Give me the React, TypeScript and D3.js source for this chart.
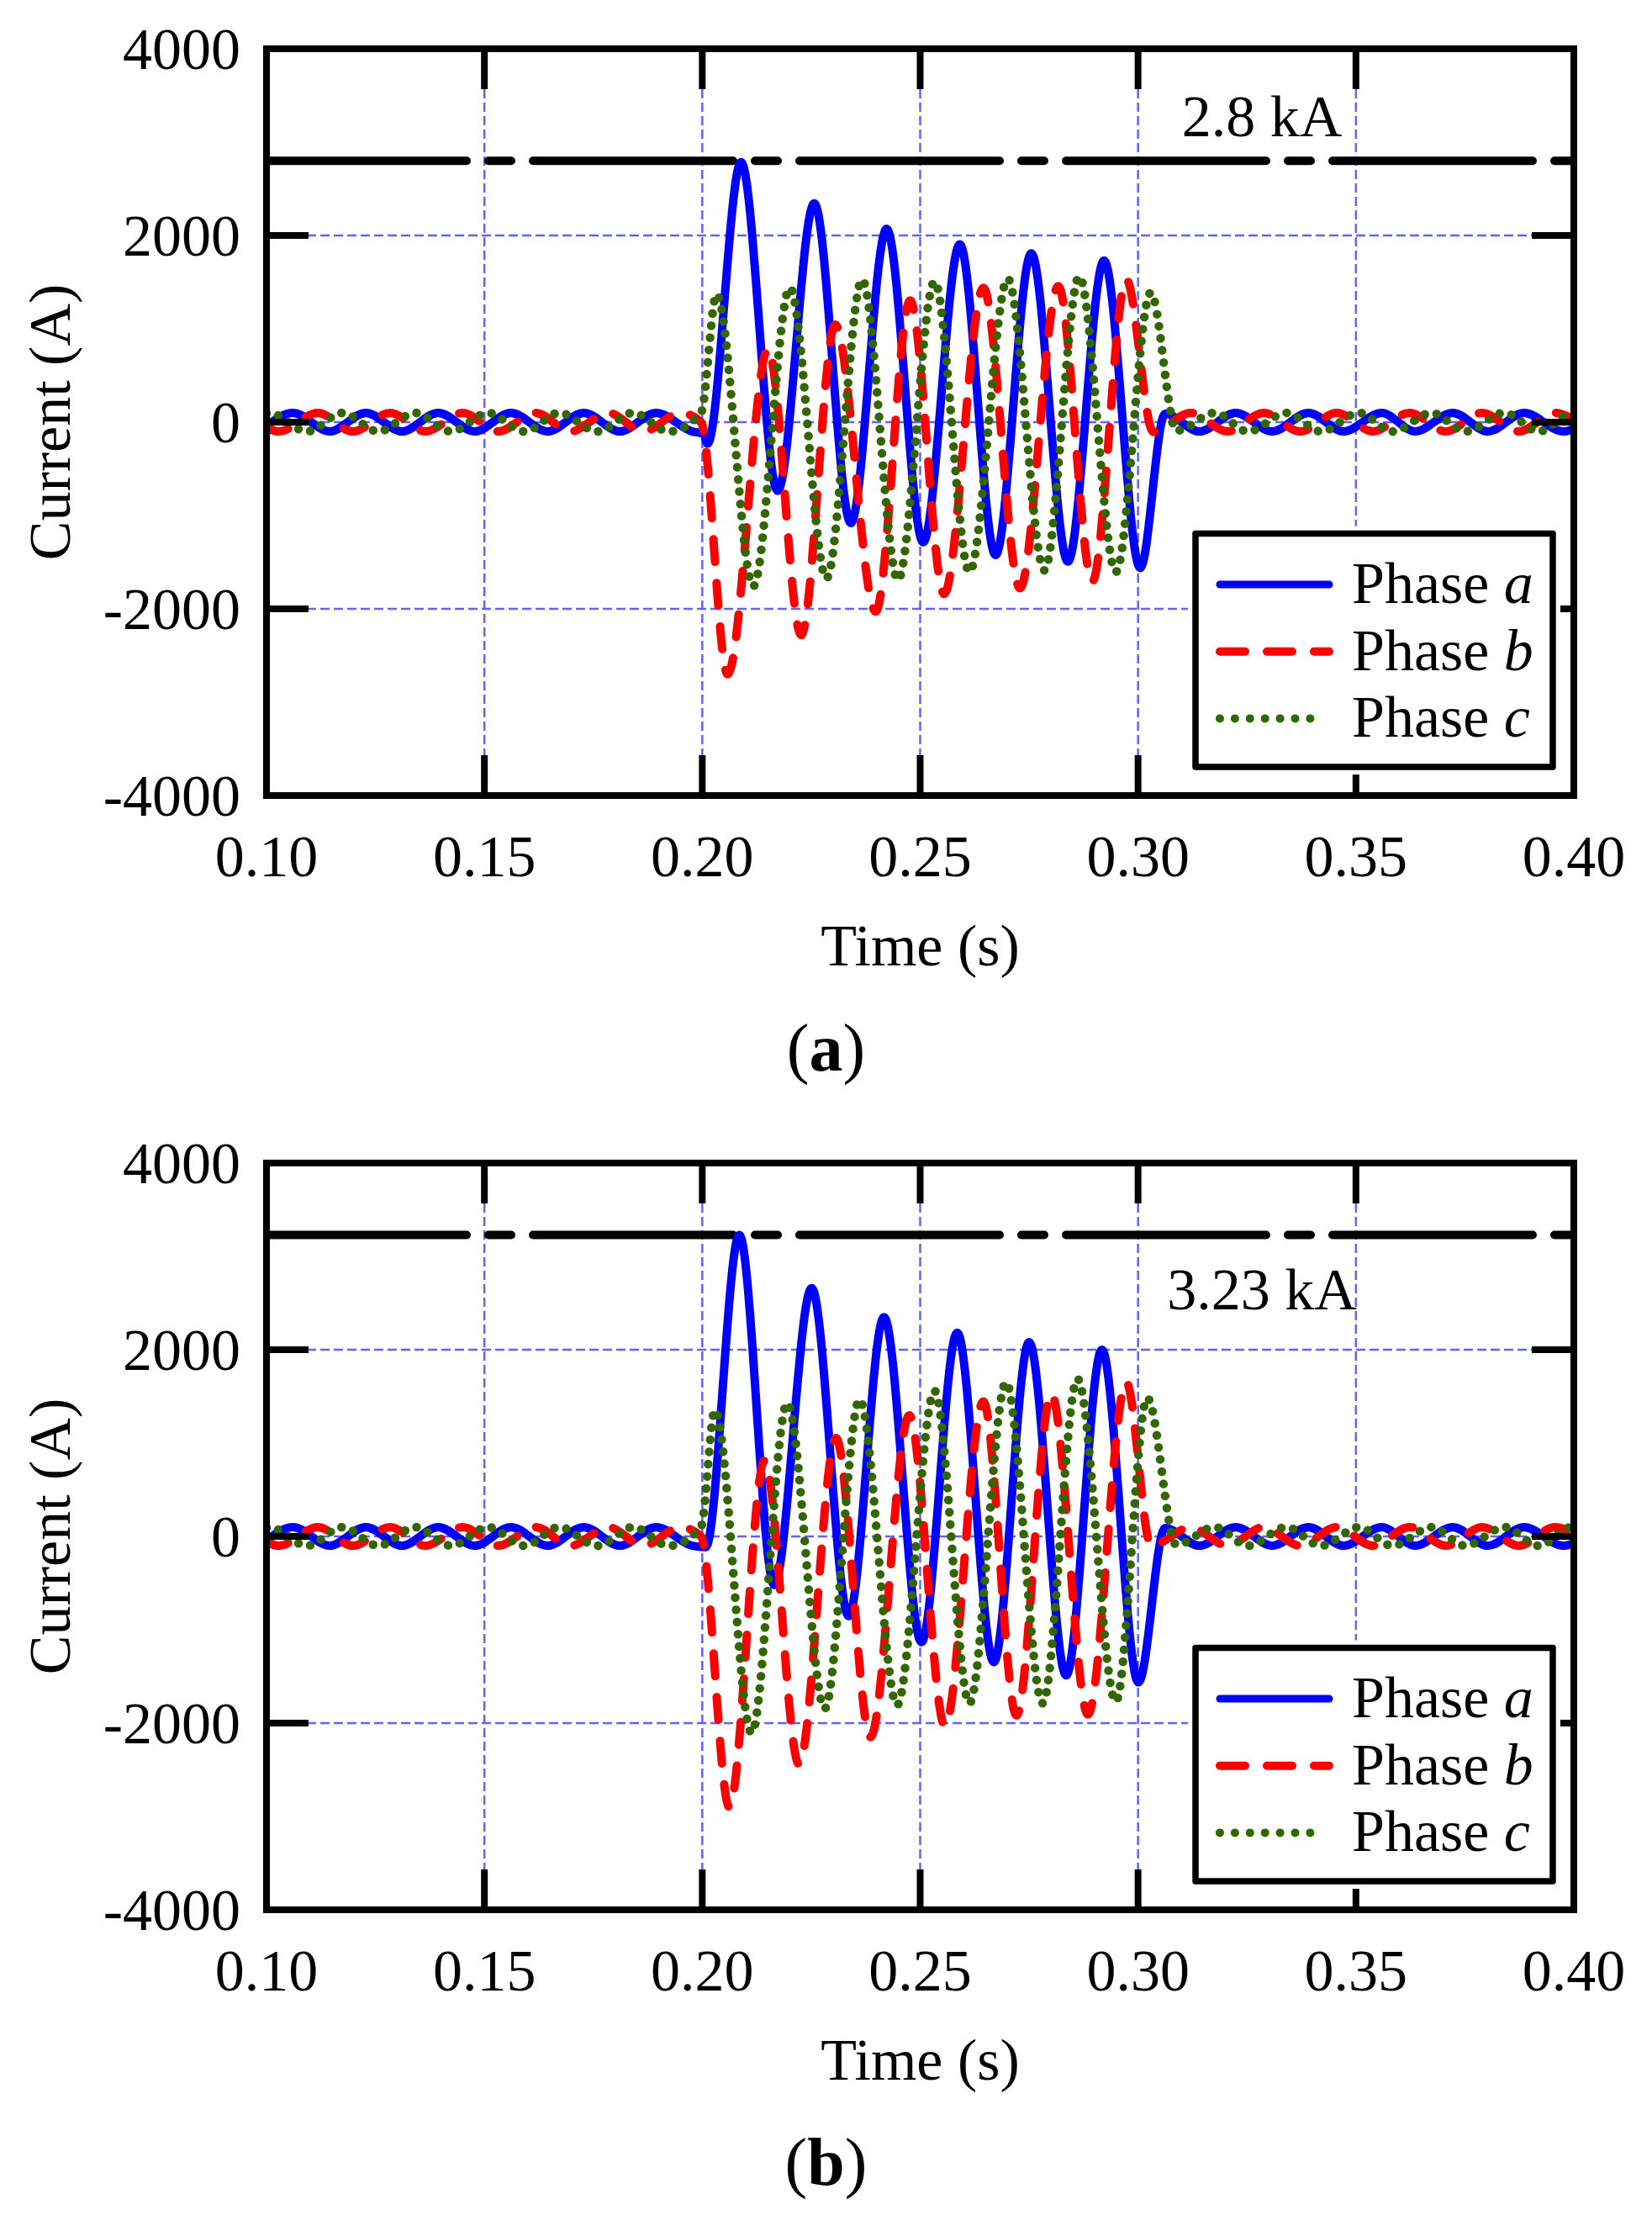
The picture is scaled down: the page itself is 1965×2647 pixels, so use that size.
import React from "react";
import * as d3 from "d3";

type P = [number, number];

// ---------- steady-state ripple (shared by both panels), [time s, current A] ----------
const preA: P[] = [[0.1, -40], [0.1061, 100], [0.1145, -100], [0.1228, 100], [0.1311, -100], [0.1394, 100], [0.1478, -100], [0.1561, 100], [0.1645, -100], [0.1728, 100], [0.1811, -100], [0.1894, 100], [0.1977, -100]];
const postA: P[] = [[0.3062, 90], [0.3141, -100], [0.3224, 100], [0.3308, -100], [0.3391, 100], [0.3472, -100], [0.3559, 100], [0.3636, -100], [0.3722, 100], [0.3803, -100], [0.3886, 100], [0.3976, -100], [0.4, -70]];
const preB: P[] = [[0.1, -60], [0.1028, -100], [0.1118, 100], [0.1198, -100], [0.1284, 100], [0.1365, -100], [0.1451, 100], [0.1532, -100], [0.1617, 100], [0.1698, -100], [0.1784, 100], [0.1865, -100], [0.195, 100], [0.1997, 0]];
const postB: P[] = [[0.3121, 100], [0.3205, -100], [0.3288, 100], [0.3372, -100], [0.3456, 100], [0.3539, -100], [0.3623, 100], [0.3706, -100], [0.379, 100], [0.3874, -100], [0.3957, 100], [0.4, 30]];
const preC: P[] = [[0.1, 95], [0.1006, 100], [0.1093, -100], [0.1174, 100], [0.1257, -100], [0.1341, 100], [0.1424, -100], [0.1508, 100], [0.1592, -100], [0.1672, 100], [0.1759, -100], [0.1841, 100], [0.1923, -100], [0.1997, 100]];
const postC: P[] = [[0.3088, -90], [0.3176, 100], [0.3253, -100], [0.334, 100], [0.342, -100], [0.3507, 100], [0.3584, -100], [0.3674, 100], [0.3751, -100], [0.3841, 100], [0.392, -100], [0.3996, 100], [0.4, 100]];

// ---------- fault transients, panel (a) ----------
const faultA1: P[] = [[0.2003, -125], [0.2012, -230], [0.2089, 2785], [0.2173, -735], [0.2257, 2344], [0.2341, -1080], [0.2423, 2071], [0.2507, -1287], [0.2591, 1905], [0.2673, -1424], [0.2755, 1809], [0.2839, -1494], [0.2922, 1733], [0.3005, -1562]];
const faultB1: P[] = [[0.2058, -2700], [0.2151, 786], [0.2227, -2280], [0.2305, 1044], [0.2398, -2030], [0.2477, 1303], [0.2555, -1840], [0.2645, 1440], [0.2729, -1780], [0.2817, 1458], [0.2895, -1707], [0.2973, 1527], [0.3035, -105]];
const faultC1: P[] = [[0.2033, 1371], [0.2117, -1757], [0.2201, 1441], [0.2285, -1673], [0.2367, 1527], [0.2449, -1690], [0.2533, 1509], [0.2613, -1604], [0.2701, 1537], [0.2785, -1587], [0.2865, 1561], [0.2949, -1604], [0.3029, 1388]];

// ---------- fault transients, panel (b) ----------
const faultA2: P[] = [[0.2008, -115], [0.2085, 3230], [0.2165, -520], [0.2251, 2660], [0.2336, -854], [0.2417, 2350], [0.2503, -1134], [0.2585, 2183], [0.2669, -1347], [0.275, 2082], [0.2835, -1489], [0.2917, 2000], [0.3001, -1564]];
const faultB2: P[] = [[0.2062, -2900], [0.2143, 812], [0.2222, -2440], [0.2307, 1054], [0.2386, -2150], [0.2475, 1297], [0.2557, -2031], [0.2645, 1447], [0.2721, -1919], [0.2801, 1529], [0.2885, -1907], [0.2973, 1652], [0.303, -100]];
const faultC2: P[] = [[0.2029, 1353], [0.2113, -2105], [0.2195, 1428], [0.2281, -1844], [0.2361, 1466], [0.2447, -1806], [0.2533, 1559], [0.2613, -1787], [0.2697, 1652], [0.2781, -1787], [0.2861, 1689], [0.2949, -1769], [0.3021, 1484]];

const xTicks = [0.1, 0.15, 0.2, 0.25, 0.3, 0.35, 0.4];
const yTicks = [-4000, -2000, 0, 2000, 4000];
const xGrid = [0.15, 0.2, 0.25, 0.3, 0.35];
const yGrid = [-2000, 0, 2000];
const limits = [2800, 3230];
const limitLabels = ["2.8 kA", "3.23 kA"];
const captions = ["a", "b"];
const phaseNames = ["a", "b", "c"];

const panelData: P[][][] = [
  [[...preA, ...faultA1, ...postA], [...preB, ...faultB1, ...postB], [...preC, ...faultC1, ...postC]],
  [[...preA, ...faultA2, ...postA], [...preB, ...faultB2, ...postB], [...preC, ...faultC2, ...postC]],
];

const W = 1965;
const H = 2647;
const L = 317;
const R = 1872;
const PH = 888;
const TOPS = [58, 1383];
const LABEL_DY = [104, 174];
const FONT = "'Liberation Serif', 'Times New Roman', Times, serif";
const GRID = "#6262ff";
const styles = [
  { color: "#0000ff", dash: undefined as string | undefined, w: 10 },
  { color: "#ff0000", dash: "27 25", w: 10 },
  { color: "#336600", dash: "0 14.5", w: 10.5 },
];
const legendDash = [undefined, "30 26", "0 17.9"];

function Panel({ idx }: { idx: number }) {
  const top = TOPS[idx];
  const bottom = top + PH;
  const x = d3.scaleLinear().domain([0.1, 0.4]).range([L, R]);
  const y = d3.scaleLinear().domain([-4000, 4000]).range([bottom, top]);
  const line = d3
    .line<P>()
    .x((d) => x(d[0]))
    .y((d) => y(d[1]))
    .curve(d3.curveMonotoneX);
  const clipId = `clip-${idx}`;
  const tickLen = 48;
  const lg = { x0: 1422, x1: 1847, y0: top + 576.5, y1: top + 854 };
  return (
    <g>
      <defs>
        <clipPath id={clipId}>
          <rect x={L} y={top} width={R - L} height={PH} />
        </clipPath>
      </defs>
      {xGrid.map((t) => (
        <line key={"gx" + t} x1={x(t)} x2={x(t)} y1={top} y2={bottom} stroke={GRID} strokeWidth={2.5} strokeDasharray="11 5" />
      ))}
      {yGrid.map((v) => (
        <line key={"gy" + v} x1={L} x2={R} y1={y(v)} y2={y(v)} stroke={GRID} strokeWidth={2.5} strokeDasharray="11 5" />
      ))}
      <g clipPath={`url(#${clipId})`}>
        <line x1={L} x2={R} y1={y(limits[idx])} y2={y(limits[idx])} stroke="#000" strokeWidth={10} strokeLinecap="round" strokeDasharray="238 26 27 26" />
        {panelData[idx].map((d, i) => (
          <path
            key={"ph" + i}
            d={line(d) || ""}
            fill="none"
            stroke={styles[i].color}
            strokeWidth={styles[i].w}
            strokeLinecap="round"
            strokeLinejoin="round"
            strokeDasharray={styles[i].dash}
          />
        ))}
      </g>
      {xTicks.map((t) => (
        <g key={"tx" + t}>
          <line x1={x(t)} x2={x(t)} y1={bottom} y2={bottom - tickLen} stroke="#000" strokeWidth={8} />
          <line x1={x(t)} x2={x(t)} y1={top} y2={top + tickLen} stroke="#000" strokeWidth={8} />
          <text x={x(t)} y={bottom + 96} textAnchor="middle" fontSize={70} fontFamily={FONT}>
            {d3.format(".2f")(t)}
          </text>
        </g>
      ))}
      {yTicks.map((v) => (
        <g key={"ty" + v}>
          <line x1={L} x2={L + tickLen + 2} y1={y(v)} y2={y(v)} stroke="#000" strokeWidth={8} />
          <line x1={R} x2={R - tickLen - 2} y1={y(v)} y2={y(v)} stroke="#000" strokeWidth={8} />
          <text x={286} y={y(v) + 24} textAnchor="end" fontSize={70} fontFamily={FONT}>
            {String(v)}
          </text>
        </g>
      ))}
      <rect x={L} y={top} width={R - L} height={PH} fill="none" stroke="#000" strokeWidth={8} />
      <text x={1501} y={top + LABEL_DY[idx]} textAnchor="middle" fontSize={70} fontFamily={FONT}>
        {limitLabels[idx]}
      </text>
      <rect x={lg.x0 - 9} y={lg.y0 - 9} width={lg.x1 - lg.x0 + 18} height={lg.y1 - lg.y0 + 18} fill="#fff" />
      <rect x={lg.x0} y={lg.y0} width={lg.x1 - lg.x0} height={lg.y1 - lg.y0} fill="#fff" stroke="#000" strokeWidth={7.5} strokeLinejoin="round" />
      {phaseNames.map((n, i) => {
        const ly = top + 637 + i * 79.7;
        return (
          <g key={"lg" + n}>
            <line
              x1={1451}
              x2={i === 2 ? 1576 : 1581}
              y1={ly}
              y2={ly}
              stroke={styles[i].color}
              strokeWidth={i === 0 ? 9 : 10}
              strokeLinecap="round"
              strokeDasharray={legendDash[i]}
            />
            <text x={1608} y={ly + 22} fontSize={70} fontFamily={FONT}>
              Phase <tspan fontStyle="italic">{n}</tspan>
            </text>
          </g>
        );
      })}
      <text x={(L + R) / 2} y={top + 1090} textAnchor="middle" fontSize={70} fontFamily={FONT}>
        Time (s)
      </text>
      <text transform={`translate(83,${(top + bottom) / 2}) rotate(-90)`} textAnchor="middle" fontSize={70} fontFamily={FONT}>
        Current (A)
      </text>
      <text x={W / 2} y={top + 1215} textAnchor="middle" fontSize={80} fontFamily={FONT}>
        (<tspan fontWeight="bold">{captions[idx]}</tspan>)
      </text>
    </g>
  );
}

export default function App() {
  return (
    <svg
      width={W}
      height={H}
      viewBox={`0 0 ${W} ${H}`}
      style={{ position: "absolute", left: 0, top: 0, background: "#fff" }}
    >
      <rect x={0} y={0} width={W} height={H} fill="#fff" />
      <Panel idx={0} />
      <Panel idx={1} />
    </svg>
  );
}
